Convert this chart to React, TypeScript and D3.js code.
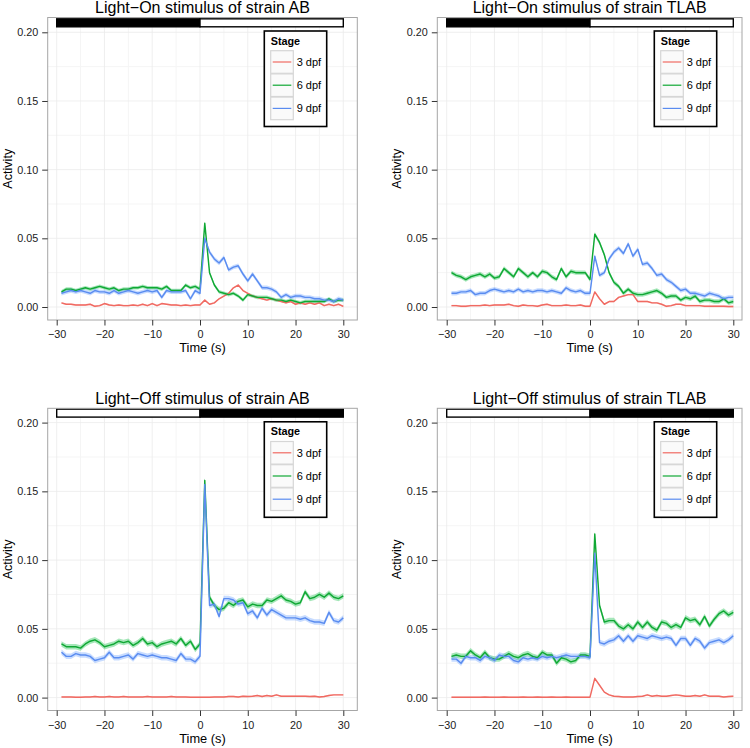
import React, { useEffect, useRef } from 'react';
import * as d3 from 'd3';

// time points (s) relative to stimulus
const times = [
  -29, -28, -27, -26, -25, -24, -23, -22, -21, -20, -19, -18, -17, -16, -15, -14, -13, -12, -11, -10,
  -9, -8, -7, -6, -5, -4, -3, -2, -1, 0, 1, 2, 3, 4, 5, 6, 7, 8, 9, 10,
  11, 12, 13, 14, 15, 16, 17, 18, 19, 20, 21, 22, 23, 24, 25, 26, 27, 28, 29, 30,
];

const stages = ['3 dpf', '6 dpf', '9 dpf'];
const stageColors = ['#F8766D', '#00BA38', '#619CFF'];
const lineColors = ['#F06A62', '#10A834', '#5A8CF0'];

// Light-On, strain AB
const onAB3 = [
  0.003, 0.002, 0.002, 0.0015, 0.0015, 0.0015, 0.002, 0.0005, 0.001, 0.0025, 0.0015, 0.001, 0.0015, 0.001, 0.001, 0.0015, 0.001, 0.002, 0.001, 0.0025,
  0.001, 0.0025, 0.002, 0.0015, 0.0015, 0.001, 0.0015, 0.001, 0.0015, 0.0015, 0.005, 0.002, 0.003, 0.006, 0.008, 0.01, 0.014, 0.016, 0.012, 0.01,
  0.008, 0.007, 0.006, 0.005, 0.006, 0.005, 0.004, 0.003, 0.004, 0.002, 0.003, 0.002, 0.003, 0.002, 0.003, 0.001, 0.002, 0.001, 0.002, 0.0005,
];
const onAB6 = [
  0.011, 0.013, 0.013, 0.012, 0.013, 0.014, 0.013, 0.014, 0.015, 0.014, 0.013, 0.014, 0.012, 0.013, 0.013, 0.014, 0.014, 0.015, 0.014, 0.014,
  0.014, 0.013, 0.015, 0.012, 0.012, 0.012, 0.016, 0.014, 0.015, 0.013, 0.061, 0.025, 0.016, 0.011, 0.01, 0.009, 0.01, 0.008, 0.005, 0.009,
  0.008, 0.007, 0.007, 0.007, 0.006, 0.005, 0.005, 0.004, 0.005, 0.004, 0.003, 0.004, 0.004, 0.004, 0.004, 0.004, 0.006, 0.004, 0.005, 0.005,
];
const onAB9 = [
  0.01, 0.011, 0.012, 0.011, 0.012, 0.011, 0.01, 0.012, 0.011, 0.011, 0.01, 0.012, 0.01, 0.011, 0.012, 0.011, 0.01, 0.011, 0.012, 0.011,
  0.012, 0.007, 0.012, 0.011, 0.011, 0.011, 0.012, 0.006, 0.012, 0.01, 0.05, 0.04, 0.035, 0.032, 0.036, 0.027, 0.029, 0.03, 0.024, 0.019,
  0.024, 0.019, 0.014, 0.014, 0.013, 0.011, 0.007, 0.009, 0.007, 0.008, 0.008, 0.007, 0.007, 0.006, 0.006, 0.005, 0.005, 0.004, 0.006, 0.005,
];

// Light-On, strain TLAB
const onTLAB3 = [
  0.001, 0.001, 0.0005, 0.0005, 0.001, 0.001, 0.001, 0.0015, 0.001, 0.0015, 0.0015, 0.0015, 0.002, 0.001, 0.0005, 0.0015, 0.001, 0.001, 0.0005, 0.0015,
  0.002, 0.001, 0.001, 0.001, 0.0015, 0.001, 0.001, 0.0015, 0.0005, 0.0005, 0.011, 0.006, 0.002, 0.004, 0.004, 0.007, 0.008, 0.009, 0.009, 0.004,
  0.004, 0.004, 0.003, 0.003, 0.002, 0.0005, 0.001, 0.002, 0.002, 0.001, 0.001, 0.001, 0.001, 0.0005, 0.0005, 0.0005, 0.0005, 0.0005, 0.0003, 0.0003,
];
const onTLAB6 = [
  0.025, 0.023, 0.022, 0.02, 0.022, 0.023, 0.024, 0.022, 0.024, 0.021, 0.022, 0.028, 0.025, 0.022, 0.028, 0.025, 0.022, 0.025, 0.022, 0.026,
  0.025, 0.022, 0.02, 0.028, 0.022, 0.026, 0.025, 0.025, 0.025, 0.02, 0.053, 0.047, 0.038, 0.025, 0.018, 0.015, 0.01, 0.013, 0.01, 0.009,
  0.009, 0.01, 0.011, 0.012, 0.01, 0.007, 0.008, 0.008, 0.005, 0.007, 0.006, 0.008, 0.004, 0.005, 0.005, 0.004, 0.004, 0.006, 0.003, 0.004,
];
const onTLAB9 = [
  0.01, 0.01, 0.011, 0.011, 0.012, 0.009, 0.01, 0.01, 0.012, 0.013, 0.012, 0.011, 0.012, 0.011, 0.013, 0.011, 0.012, 0.011, 0.012, 0.012,
  0.011, 0.012, 0.011, 0.01, 0.014, 0.012, 0.011, 0.012, 0.01, 0.01, 0.037, 0.023, 0.025, 0.035, 0.04, 0.043, 0.039, 0.046, 0.037, 0.042,
  0.031, 0.032, 0.028, 0.023, 0.024, 0.02, 0.018, 0.015, 0.012, 0.013, 0.01, 0.01, 0.009, 0.008, 0.01, 0.009, 0.008, 0.006, 0.007, 0.007,
];

// Light-Off, strain AB
const offAB3 = [
  0.0005, 0.0005, 0.0005, 0.0003, 0.0003, 0.0005, 0.0005, 0.0008, 0.0005, 0.0005, 0.0008, 0.0005, 0.0005, 0.0008, 0.0005, 0.0005, 0.0005, 0.0005, 0.0008, 0.0005,
  0.0005, 0.0005, 0.0005, 0.0008, 0.0005, 0.0005, 0.0005, 0.0003, 0.0003, 0.0003, 0.0003, 0.0003, 0.0005, 0.0005, 0.0005, 0.0008, 0.0008, 0.0005, 0.001, 0.0008,
  0.001, 0.0015, 0.0008, 0.0015, 0.001, 0.002, 0.001, 0.001, 0.001, 0.001, 0.001, 0.001, 0.0008, 0.001, 0.0005, 0.0008, 0.0015, 0.002, 0.002, 0.002,
];
const offAB6 = [
  0.039, 0.037, 0.037, 0.037, 0.036, 0.039, 0.041, 0.042, 0.04, 0.037, 0.038, 0.039, 0.041, 0.04, 0.041, 0.038, 0.04, 0.043, 0.039, 0.04,
  0.037, 0.039, 0.04, 0.041, 0.039, 0.043, 0.038, 0.041, 0.035, 0.039, 0.158, 0.073, 0.067, 0.064, 0.065, 0.069, 0.067, 0.07, 0.071, 0.066,
  0.068, 0.067, 0.067, 0.071, 0.07, 0.072, 0.074, 0.071, 0.07, 0.068, 0.069, 0.077, 0.072, 0.073, 0.075, 0.073, 0.076, 0.073, 0.072, 0.074,
];
const offAB9 = [
  0.033, 0.03, 0.03, 0.032, 0.031, 0.031, 0.03, 0.027, 0.028, 0.029, 0.033, 0.029, 0.029, 0.03, 0.031, 0.028, 0.032, 0.031, 0.03, 0.031,
  0.03, 0.029, 0.029, 0.028, 0.027, 0.032, 0.028, 0.028, 0.026, 0.03, 0.155, 0.067, 0.068, 0.059, 0.072, 0.072, 0.071, 0.068, 0.069, 0.061,
  0.063, 0.058, 0.065, 0.06, 0.064, 0.062, 0.06, 0.058, 0.058, 0.058, 0.057, 0.058, 0.056, 0.055, 0.055, 0.054, 0.062, 0.056, 0.055, 0.058,
];

// Light-Off, strain TLAB
const offTLAB3 = [
  0.0003, 0.0003, 0.0003, 0.0003, 0.0003, 0.0003, 0.0003, 0.0005, 0.0003, 0.0003, 0.0003, 0.0005, 0.0003, 0.0003, 0.0003, 0.0005, 0.0003, 0.0003, 0.0005, 0.0003,
  0.0003, 0.0005, 0.0003, 0.0003, 0.0005, 0.0003, 0.0003, 0.0003, 0.0003, 0.0003, 0.014, 0.009, 0.004, 0.002, 0.001, 0.0008, 0.0005, 0.0005, 0.0005, 0.0008,
  0.001, 0.002, 0.001, 0.0015, 0.001, 0.001, 0.0015, 0.002, 0.0015, 0.001, 0.001, 0.0015, 0.001, 0.002, 0.001, 0.001, 0.001, 0.0005, 0.0008, 0.001,
];
const offTLAB6 = [
  0.03, 0.031, 0.03, 0.03, 0.034, 0.031, 0.029, 0.033, 0.029, 0.028, 0.028, 0.03, 0.032, 0.03, 0.029, 0.031, 0.032, 0.03, 0.029, 0.033,
  0.031, 0.031, 0.025, 0.029, 0.028, 0.026, 0.027, 0.031, 0.031, 0.03, 0.119, 0.067, 0.055, 0.056, 0.056, 0.052, 0.05, 0.053, 0.05, 0.055,
  0.051, 0.055, 0.051, 0.049, 0.055, 0.054, 0.051, 0.053, 0.051, 0.058, 0.056, 0.057, 0.053, 0.059, 0.052, 0.057, 0.061, 0.063, 0.06, 0.062,
];
const offTLAB9 = [
  0.028, 0.028, 0.025, 0.03, 0.029, 0.029, 0.027, 0.03, 0.029, 0.027, 0.031, 0.03, 0.03, 0.027, 0.026, 0.029, 0.028, 0.029, 0.028, 0.03,
  0.029, 0.03, 0.029, 0.03, 0.031, 0.03, 0.03, 0.03, 0.03, 0.029, 0.105, 0.04, 0.039, 0.041, 0.042, 0.045, 0.041, 0.045, 0.041, 0.045,
  0.044, 0.043, 0.045, 0.044, 0.043, 0.044, 0.043, 0.038, 0.043, 0.043, 0.038, 0.043, 0.041, 0.036, 0.04, 0.041, 0.042, 0.04, 0.042, 0.045,
];

// half-width of the shaded error band per stage
const bandOnAB = [0.0006, 0.0013, 0.0016];
const bandOnTLAB = [0.0006, 0.0016, 0.0016];
const bandOffAB = [0.0005, 0.002, 0.002];
const bandOffTLAB = [0.0005, 0.002, 0.002];

const xTicks = [-30, -20, -10, 0, 10, 20, 30];
const xMinor = [-25, -15, -5, 5, 15, 25];
const yTicks = [0, 0.05, 0.1, 0.15, 0.2];
const yMinor = [0.025, 0.075, 0.125, 0.175];

const panels = [
  { title: 'Light\u2212On stimulus of strain AB', light: 'on', col: 0, row: 0, series: [onAB3, onAB6, onAB9], band: bandOnAB },
  { title: 'Light\u2212On stimulus of strain TLAB', light: 'on', col: 1, row: 0, series: [onTLAB3, onTLAB6, onTLAB9], band: bandOnTLAB },
  { title: 'Light\u2212Off stimulus of strain AB', light: 'off', col: 0, row: 1, series: [offAB3, offAB6, offAB9], band: bandOffAB },
  { title: 'Light\u2212Off stimulus of strain TLAB', light: 'off', col: 1, row: 1, series: [offTLAB3, offTLAB6, offTLAB9], band: bandOffTLAB },
];

// layout (px)
const colLeft = [47.7, 437.3];
const colRight = [357.3, 742];
const colXStart = [56.7, 446.7];
const colXEnd = [343.3, 733.3];
const rowTop = [17.5, 408.3];
const rowBottom = [320, 710.5];
const rowY0 = [307, 697.6];
const rowY20 = [32.3, 422.6];

const FONT = '"Liberation Sans", Arial, Helvetica, sans-serif';

const App = () => {
  const svgRef = useRef<SVGSVGElement>(null);

  useEffect(() => {
    const svg = d3.select(svgRef.current);
    svg.selectAll('*').remove();

    panels.forEach((p, pi) => {
      const left = colLeft[p.col];
      const right = colRight[p.col];
      const top = rowTop[p.row];
      const bottom = rowBottom[p.row];

      const x = d3.scaleLinear().domain([-30, 30]).range([colXStart[p.col], colXEnd[p.col]]);
      const y = d3.scaleLinear().domain([0, 0.2]).range([rowY0[p.row], rowY20[p.row]]);

      const g = svg.append('g');

      const clipId = `clip-${pi}`;
      g.append('clipPath').attr('id', clipId)
        .append('rect').attr('x', left).attr('y', top).attr('width', right - left).attr('height', bottom - top);

      g.append('rect').attr('x', left).attr('y', top).attr('width', right - left).attr('height', bottom - top)
        .attr('fill', '#fff');

      // grid
      g.selectAll('line.xminor').data(xMinor).enter().append('line')
        .attr('x1', d => x(d)).attr('x2', d => x(d)).attr('y1', top).attr('y2', bottom)
        .attr('stroke', '#f5f5f5').attr('stroke-width', 1);
      g.selectAll('line.yminor').data(yMinor).enter().append('line')
        .attr('x1', left).attr('x2', right).attr('y1', d => y(d)).attr('y2', d => y(d))
        .attr('stroke', '#f5f5f5').attr('stroke-width', 1);
      g.selectAll('line.xmajor').data(xTicks).enter().append('line')
        .attr('x1', d => x(d)).attr('x2', d => x(d)).attr('y1', top).attr('y2', bottom)
        .attr('stroke', '#ebebeb').attr('stroke-width', 0.8);
      g.selectAll('line.ymajor').data(yTicks).enter().append('line')
        .attr('x1', left).attr('x2', right).attr('y1', d => y(d)).attr('y2', d => y(d))
        .attr('stroke', '#ebebeb').attr('stroke-width', 0.8);

      // light/dark bar
      const barTop = y(0.2098);
      const barBot = y(0.204);
      const firstFill = p.light === 'on' ? '#000' : '#fff';
      const secondFill = p.light === 'on' ? '#fff' : '#000';
      g.append('rect').attr('x', x(-30)).attr('y', barTop).attr('width', x(0) - x(-30)).attr('height', barBot - barTop)
        .attr('fill', firstFill).attr('stroke', '#000').attr('stroke-width', 1.4);
      g.append('rect').attr('x', x(0)).attr('y', barTop).attr('width', x(30) - x(0)).attr('height', barBot - barTop)
        .attr('fill', secondFill).attr('stroke', '#000').attr('stroke-width', 1.4);

      const plot = g.append('g').attr('clip-path', `url(#${clipId})`);

      p.series.forEach((vals, si) => {
        const pts = times.map((t, i) => ({ t, v: vals[i] }));
        const area = d3.area<{ t: number; v: number }>()
          .x(d => x(d.t))
          .y0(d => y(d.v - p.band[si]))
          .y1(d => y(d.v + p.band[si]));
        plot.append('path').datum(pts).attr('d', area)
          .attr('fill', stageColors[si]).attr('fill-opacity', 0.35);
      });
      p.series.forEach((vals, si) => {
        const pts = times.map((t, i) => ({ t, v: vals[i] }));
        const line = d3.line<{ t: number; v: number }>().x(d => x(d.t)).y(d => y(d.v));
        plot.append('path').datum(pts).attr('d', line)
          .attr('fill', 'none').attr('stroke', lineColors[si]).attr('stroke-width', 1.45)
          .attr('stroke-linejoin', 'round');
      });

      // border
      g.append('rect').attr('x', left).attr('y', top).attr('width', right - left).attr('height', bottom - top)
        .attr('fill', 'none').attr('stroke', '#a6a6a6').attr('stroke-width', 1);

      // axes
      const yAxis = g.append('g').attr('transform', `translate(${left},0)`)
        .call(d3.axisLeft(y).tickValues(yTicks).tickFormat(d3.format('.2f')).tickSize(5.5).tickPadding(4));
      const xAxis = g.append('g').attr('transform', `translate(0,${bottom})`)
        .call(d3.axisBottom(x).tickValues(xTicks).tickFormat(d3.format('d')).tickSize(5.5).tickPadding(5));
      [yAxis, xAxis].forEach(ax => {
        ax.select('.domain').remove();
        ax.selectAll('line').attr('stroke', '#333').attr('stroke-width', 1);
        ax.selectAll('text').attr('fill', '#1a1a1a').style('font-size', '10.8px').style('font-family', FONT);
      });

      // titles
      const cx = (left + right) / 2;
      g.append('text').attr('x', cx).attr('y', top - 4.3).attr('text-anchor', 'middle')
        .style('font-size', '16px').style('font-family', FONT).attr('fill', '#000').text(p.title);
      g.append('text').attr('x', cx).attr('y', bottom + 32.3).attr('text-anchor', 'middle')
        .style('font-size', '12.8px').style('font-family', FONT).attr('fill', '#000').text('Time (s)');
      const cy = (top + bottom) / 2;
      g.append('text').attr('transform', `translate(${left - 36},${cy}) rotate(-90)`).attr('text-anchor', 'middle')
        .style('font-size', '12.6px').style('font-family', FONT).attr('fill', '#000').text('Activity');

      // legend
      const lx = x(-30) + 207.6;
      const ly = top + 13.5;
      const legend = g.append('g').attr('transform', `translate(${lx},${ly})`);
      legend.append('rect').attr('x', 0).attr('y', 0).attr('width', 62.4).attr('height', 95.5)
        .attr('fill', '#fff').attr('stroke', '#000').attr('stroke-width', 1.6);
      legend.append('text').attr('x', 6.4).attr('y', 13.5)
        .style('font-size', '10.8px').style('font-weight', 'bold').style('font-family', FONT).attr('fill', '#000')
        .text('Stage');
      stages.forEach((s, i) => {
        const ky = 19.7 + i * 23.2;
        legend.append('rect').attr('x', 6.4).attr('y', ky).attr('width', 22.6).attr('height', 22.6)
          .attr('fill', '#fafafa').attr('stroke', '#d6d6d6').attr('stroke-width', 1.2);
        legend.append('line').attr('x1', 8.4).attr('x2', 27).attr('y1', ky + 11.3).attr('y2', ky + 11.3)
          .attr('stroke', lineColors[i]).attr('stroke-width', 1.2);
        legend.append('text').attr('x', 32.4).attr('y', ky + 15.2)
          .style('font-size', '11px').style('font-family', FONT).attr('fill', '#000').text(s);
      });
    });
  }, []);

  return (
    <svg ref={svgRef} width={750} height={748}
      style={{ position: 'absolute', left: 0, top: 0, background: '#fff', display: 'block' }} />
  );
};

export default App;
